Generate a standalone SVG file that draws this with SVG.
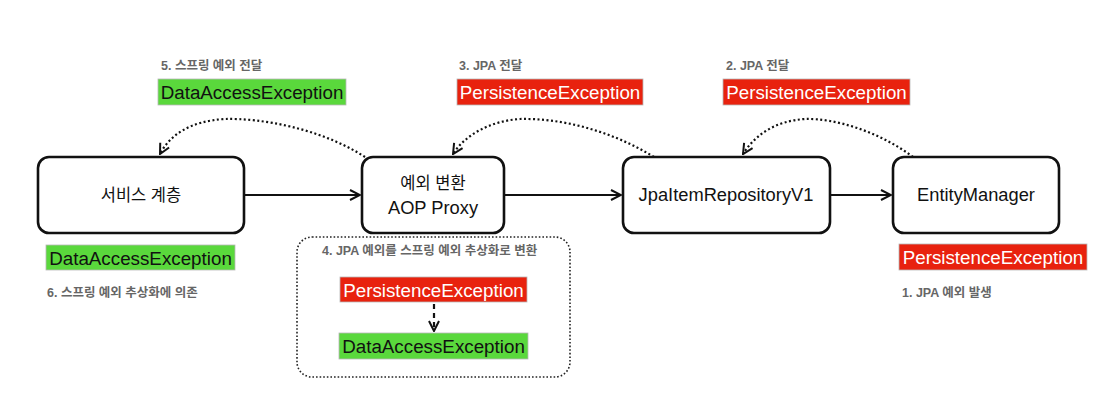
<svg xmlns="http://www.w3.org/2000/svg" width="1120" height="411" viewBox="0 0 1120 411">
<style>
text{font-family:"Liberation Sans","Noto Sans CJK KR",sans-serif;}
.node{fill:#fff;stroke:#111;stroke-width:2.6;}
.nt{font-size:18.3px;fill:#111;text-anchor:middle;}
.nk{font-size:16.5px;fill:#111;text-anchor:middle;}
.lbl{font-size:12.5px;font-weight:bold;fill:#666;}
.exg{fill:#5ad83c;stroke:#b8b8b8;stroke-width:0.8;}
.exr{fill:#e8220e;stroke:#b8b8b8;stroke-width:0.8;}
.ext{font-size:18.8px;text-anchor:middle;}
.flow{fill:none;stroke:#111;stroke-width:2.2;}
.curve{fill:none;stroke:#111;stroke-width:2.2;stroke-dasharray:2 2.5;}
</style>
<defs>
<marker id="ah" viewBox="0 0 12 12" refX="11" refY="6" markerWidth="12" markerHeight="12" markerUnits="userSpaceOnUse" orient="auto">
<path d="M1,1 L11,6 L1,11" fill="none" stroke="#111" stroke-width="2"/>
</marker>
</defs>
<rect width="1120" height="411" fill="#fff"/>

<g id="connectors">
<line class="flow" x1="245" y1="195" x2="360" y2="195" marker-end="url(#ah)"/>
<line class="flow" x1="505" y1="195" x2="621" y2="195" marker-end="url(#ah)"/>
<line class="flow" x1="831" y1="195" x2="891" y2="195" marker-end="url(#ah)"/>
<path class="curve" d="M365,157 C320,128 260,118 225,119 C190,121 170,135 160,154" marker-end="url(#ah)"/>
<path class="curve" d="M654,157 C610,130 560,118 520,119 C490,121 465,135 453,154" marker-end="url(#ah)"/>
<path class="curve" d="M913,157 C880,132 835,118 805,119 C775,121 755,135 743,154" marker-end="url(#ah)"/>
<line class="flow" x1="434" y1="304" x2="434" y2="331" stroke-dasharray="5 4" marker-end="url(#ah)"/>
</g>

<g id="service">
<rect class="node" x="38" y="157" width="206" height="76" rx="11"/>
<text class="nk" x="141" y="201">서비스 계층</text>
</g>
<g id="aop-proxy">
<rect class="node" x="362" y="157" width="142" height="76" rx="11"/>
<text class="nk" x="433" y="189">예외 변환</text>
<text class="nt" x="433" y="214">AOP Proxy</text>
</g>
<g id="jpa-repo">
<rect class="node" x="623" y="157" width="207" height="76" rx="11"/>
<text class="nt" x="726" y="201">JpaItemRepositoryV1</text>
</g>
<g id="entity-manager">
<rect class="node" x="893" y="157" width="166" height="76" rx="11"/>
<text class="nt" x="976" y="201">EntityManager</text>
</g>

<g id="convert-box">
<rect x="297" y="237" width="273" height="140" rx="15" fill="none" stroke="#222" stroke-width="1.6" stroke-dasharray="1.6 2"/>
<text class="lbl" x="322" y="255">4. JPA 예외를 스프링 예외 추상화로 변환</text>
<rect class="exr" x="340" y="277" width="187" height="25"/>
<text class="ext" x="433.5" y="296.5" fill="#fff">PersistenceException</text>
<rect class="exg" x="339" y="333" width="189" height="26"/>
<text class="ext" x="433.5" y="353" fill="#111">DataAccessException</text>
</g>

<g id="label5">
<text class="lbl" x="161" y="70">5. 스프링 예외 전달</text>
<rect class="exg" x="158" y="79" width="188" height="26"/>
<text class="ext" x="252" y="99" fill="#111">DataAccessException</text>
</g>
<g id="label3">
<text class="lbl" x="459" y="70">3. JPA 전달</text>
<rect class="exr" x="457" y="79" width="186" height="26"/>
<text class="ext" x="550" y="99" fill="#fff">PersistenceException</text>
</g>
<g id="label2">
<text class="lbl" x="726" y="70">2. JPA 전달</text>
<rect class="exr" x="723" y="79" width="187" height="26"/>
<text class="ext" x="816.5" y="99" fill="#fff">PersistenceException</text>
</g>
<g id="label6">
<rect class="exg" x="46" y="245" width="189" height="25"/>
<text class="ext" x="140.5" y="264.5" fill="#111">DataAccessException</text>
<text class="lbl" x="47" y="297">6. 스프링 예외 추상화에 의존</text>
</g>
<g id="label1">
<rect class="exr" x="899" y="244" width="188" height="26"/>
<text class="ext" x="993" y="264" fill="#fff">PersistenceException</text>
<text class="lbl" x="902" y="297">1. JPA 예외 발생</text>
</g>
</svg>
